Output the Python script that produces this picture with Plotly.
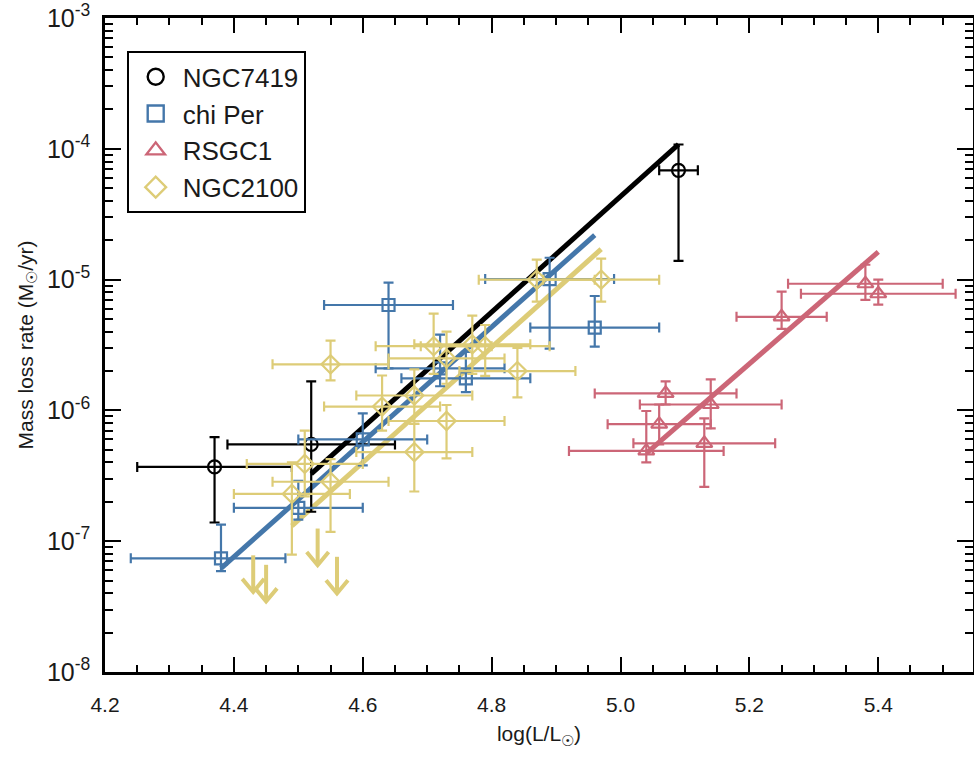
import plotly.graph_objects as go

# ---------------- data ----------------
# NGC7419
n7419_logL = [4.37, 4.52, 5.09]
n7419_logL_errm = [0.12, 0.13, 0.03]
n7419_logL_errp = [0.12, 0.13, 0.03]
n7419_mdot = [3.7e-7, 5.5e-7, 6.85e-5]
n7419_mdot_hi = [6.25e-7, 1.67e-6, 1.08e-4]
n7419_mdot_lo = [1.39e-7, 1.68e-7, 1.39e-5]

# chi Per
chiper_logL = [4.38, 4.50, 4.60, 4.64, 4.72, 4.76, 4.89, 4.96]
chiper_logL_errm = [0.14, 0.10, 0.10, 0.10, 0.10, 0.10, 0.10, 0.10]
chiper_logL_errp = [0.10, 0.10, 0.10, 0.10, 0.10, 0.10, 0.10, 0.10]
chiper_mdot = [7.4e-8, 1.8e-7, 6.0e-7, 6.4e-6, 2.1e-6, 1.76e-6, 1.01e-5, 4.3e-6]
chiper_mdot_hi = [1.34e-7, 2.9e-7, 9.5e-7, 9.5e-6, 3.8e-6, 2.8e-6, 1.47e-5, 7.5e-6]
chiper_mdot_lo = [5.9e-8, 1.46e-7, 3.8e-7, 2.1e-6, 1.53e-6, 1.38e-6, 2.97e-6, 3.08e-6]

# RSGC1
rsgc1_logL = [5.04, 5.06, 5.07, 5.13, 5.14, 5.25, 5.38, 5.40]
rsgc1_logL_lo = [4.92, 4.98, 4.96, 5.02, 5.03, 5.18, 5.26, 5.28]
rsgc1_logL_hi = [5.16, 5.14, 5.18, 5.24, 5.25, 5.32, 5.50, 5.52]
rsgc1_mdot = [4.9e-7, 7.85e-7, 1.35e-6, 5.6e-7, 1.11e-6, 5.2e-6, 9.3e-6, 7.8e-6]
rsgc1_mdot_hi = [9.9e-7, 1.11e-6, 1.67e-6, 8.7e-7, 1.73e-6, 8.1e-6, 1.3e-5, 1.0e-5]
rsgc1_mdot_lo = [4.0e-7, 5.5e-7, 1.11e-6, 2.6e-7, 7.3e-7, 4.2e-6, 7.0e-6, 6.45e-6]

# NGC2100
n2100_logL = [4.49, 4.51, 4.55, 4.55, 4.63, 4.68, 4.68, 4.71, 4.73, 4.73,
              4.77, 4.79, 4.84, 4.87, 4.97]
n2100_logL_err = [0.09, 0.09, 0.09, 0.09, 0.09, 0.09, 0.09, 0.09, 0.09, 0.09,
                  0.09, 0.10, 0.09, 0.09, 0.09]
n2100_mdot = [2.3e-7, 3.9e-7, 2.85e-7, 2.25e-6, 1.07e-6, 1.3e-6, 4.8e-7, 3.1e-6,
              2.5e-6, 8.3e-7, 3.2e-6, 3.1e-6, 2.0e-6, 1.0e-5, 1.0e-5]
n2100_mdot_hi = [4.0e-7, 7.0e-7, 4.25e-7, 3.42e-6, 1.85e-6, 2.06e-6, 7.9e-7, 5.5e-6,
                 4.0e-6, 1.1e-6, 5.3e-6, 4.5e-6, 3.0e-6, 1.42e-5, 1.45e-5]
n2100_mdot_lo = [7.9e-8, 2.2e-7, 1.18e-7, 1.7e-6, 7.0e-7, 7.9e-7, 2.4e-7, 1.9e-6,
                 1.6e-6, 4.3e-7, 1.9e-6, 1.84e-6, 1.26e-6, 6.8e-6, 6.8e-6]
# NGC2100 upper limits
n2100_lim_logL = [4.43, 4.45, 4.53, 4.56]
n2100_lim_mdot = [7.8e-8, 6.6e-8, 1.25e-7, 7.6e-8]

# fitted relations (end points)
fit_n7419_logL = [4.52, 5.09]
fit_n7419_mdot = [3.27e-7, 1.08e-4]
fit_chiper_logL = [4.38, 4.96]
fit_chiper_mdot = [6.2e-8, 2.19e-5]
fit_n2100_logL = [4.49, 4.97]
fit_n2100_mdot = [1.31e-7, 1.71e-5]
fit_rsgc1_logL = [5.04, 5.40]
fit_rsgc1_mdot = [4.7e-7, 1.63e-5]

# y tick label text (exponents of the decades)
y_exponents = [-8, -7, -6, -5, -4, -3]
y_ticklabels = ["10<sup>-8</sup>", "10<sup>-7</sup>", "10<sup>-6</sup>",
                "10<sup>-5</sup>", "10<sup>-4</sup>", "10<sup>-3</sup>"]

# ---------------- style ----------------
BLACK = "#000000"
BLUE = "#4477AA"
RED = "#CC6677"
YELLOW = "#DDCC77"
FONT = "Liberation Sans, Arial, Helvetica, sans-serif"
TXT = "#1a1a1a"
EB_T = 2.2
EB_W = 5

fig = go.Figure()


def data_trace(name, x, xm, xp, y, hi, lo, symbol, color, size):
    return go.Scatter(
        x=x, y=y, mode="markers", name=name, showlegend=False,
        marker=dict(symbol=symbol, size=size, color=color,
                    line=dict(width=2.2, color=color)),
        error_x=dict(type="data", symmetric=False, array=xp, arrayminus=xm,
                     color=color, thickness=EB_T, width=EB_W),
        error_y=dict(type="data", symmetric=False,
                     array=[h - v for h, v in zip(hi, y)],
                     arrayminus=[v - l for v, l in zip(y, lo)],
                     color=color, thickness=EB_T, width=EB_W),
    )


def legend_trace(name, symbol, color):
    return go.Scatter(x=[None], y=[None], mode="markers", name=name,
                      marker=dict(symbol=symbol, size=16, color=color,
                                  line=dict(width=2.4, color=color)))


def fit_trace(x, y, color):
    return go.Scatter(x=x, y=y, mode="lines", showlegend=False,
                      line=dict(color=color, width=5), hoverinfo="skip")


fig.add_trace(fit_trace(fit_n7419_logL, fit_n7419_mdot, BLACK))
fig.add_trace(fit_trace(fit_chiper_logL, fit_chiper_mdot, BLUE))
fig.add_trace(fit_trace(fit_n2100_logL, fit_n2100_mdot, YELLOW))
fig.add_trace(fit_trace(fit_rsgc1_logL, fit_rsgc1_mdot, RED))

fig.add_trace(data_trace("NGC7419", n7419_logL, n7419_logL_errm, n7419_logL_errp,
                         n7419_mdot, n7419_mdot_hi, n7419_mdot_lo,
                         "circle-open", BLACK, 13))
fig.add_trace(data_trace("chi Per", chiper_logL, chiper_logL_errm, chiper_logL_errp,
                         chiper_mdot, chiper_mdot_hi, chiper_mdot_lo,
                         "square-open", BLUE, 12))
fig.add_trace(data_trace("RSGC1", rsgc1_logL,
                         [c - l for c, l in zip(rsgc1_logL, rsgc1_logL_lo)],
                         [h - c for h, c in zip(rsgc1_logL_hi, rsgc1_logL)],
                         rsgc1_mdot, rsgc1_mdot_hi, rsgc1_mdot_lo,
                         "triangle-up-open", RED, 14))
fig.add_trace(data_trace("NGC2100", n2100_logL, n2100_logL_err, n2100_logL_err,
                         n2100_mdot, n2100_mdot_hi, n2100_mdot_lo,
                         "diamond-open", YELLOW, 14))

# upper-limit arrows for NGC2100
ARROW_DEX = 0.28
HEAD_DX = 0.017
HEAD_DEX = 0.10
ax, ay = [], []
for xv, yv in zip(n2100_lim_logL, n2100_lim_mdot):
    tip = yv / 10 ** ARROW_DEX
    ax += [xv, xv, None, xv - HEAD_DX, xv, xv + HEAD_DX, None]
    ay += [yv, tip, None, tip * 10 ** HEAD_DEX, tip, tip * 10 ** HEAD_DEX, None]
fig.add_trace(go.Scatter(x=ax, y=ay, mode="lines", showlegend=False,
                         line=dict(color=YELLOW, width=4), hoverinfo="skip"))

# legend entries
fig.add_trace(legend_trace("NGC7419", "circle-open", BLACK))
fig.add_trace(legend_trace("chi Per", "square-open", BLUE))
fig.add_trace(legend_trace("RSGC1", "triangle-up-open", RED))
fig.add_trace(legend_trace("NGC2100", "diamond-open", YELLOW))

# map plotly's default "power" labels (unicode minus) to hyphen labels
y_alias = {}
for e, lab in zip(y_exponents, y_ticklabels):
    y_alias["10<sup>\u2212" + str(-e) + "</sup>"] = lab
    y_alias["10<sup>" + str(e) + "</sup>"] = lab

axis_common = dict(
    showline=True, linewidth=2.5, linecolor=BLACK, mirror="ticks",
    ticks="inside", tickcolor=BLACK, tickwidth=2,
    showgrid=False, zeroline=False, ticklabeloverflow="allow",
    automargin=False,
)

fig.update_layout(
    width=974, height=760,
    margin=dict(l=105, r=1, t=18, b=88),
    paper_bgcolor="white", plot_bgcolor="white",
    font=dict(family=FONT, color=TXT),
    xaxis=dict(
        range=[4.2, 5.547], tickmode="linear", tick0=4.2, dtick=0.2,
        tickformat=".1f", ticklen=15, ticklabelstandoff=12,
        tickfont=dict(family=FONT, size=21, color=TXT),
        minor=dict(tick0=4.2, dtick=0.05, ticks="inside",
                   ticklen=7, tickwidth=2, tickcolor=BLACK),
        title=dict(text="log(L/L<sub>☉</sub>)", font=dict(family=FONT, size=21),
                   standoff=12),
        **axis_common,
    ),
    yaxis=dict(
        type="log", range=[-8, -2.9995], tickmode="linear", tick0=0, dtick=1,
        exponentformat="power", showexponent="all", labelalias=y_alias,
        tickfont=dict(family=FONT, size=20, color=TXT),
        ticklen=16, ticklabelstandoff=8,
        minor=dict(dtick="D1", ticks="inside",
                   ticklen=8, tickwidth=2, tickcolor=BLACK),
        title=dict(text="Mass loss rate (M<sub>☉</sub>/yr)",
                   font=dict(family=FONT, size=21), standoff=8),
        **axis_common,
    ),
    legend=dict(
        x=0.025, y=0.949, xanchor="left", yanchor="top",
        bordercolor=BLACK, borderwidth=2, bgcolor="white",
        font=dict(family=FONT, size=26, color=TXT),
        itemsizing="trace", itemwidth=44,
    ),
    showlegend=True,
)

fig.write_html("out.html")
